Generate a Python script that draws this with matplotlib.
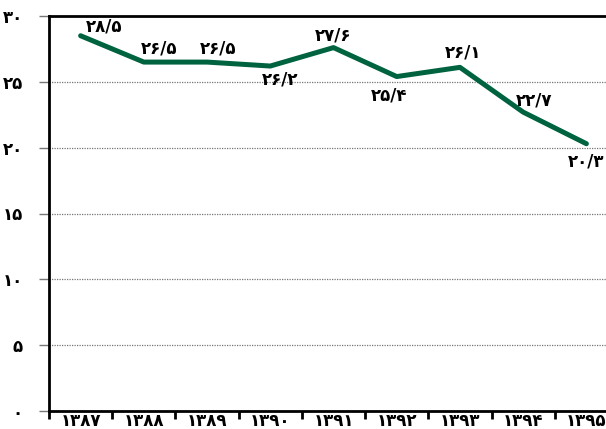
import matplotlib
matplotlib.use("Agg")
import matplotlib.pyplot as plt
import numpy as np

# ── Daten ──────────────────────────────────────────────────────────────────────
years = ["۱۳۸۷", "۱۳۸۸", "۱۳۸۹", "۱۳۹۰", "۱۳۹۱", "۱۳۹۲", "۱۳۹۳", "۱۳۹۴", "۱۳۹۵"]
values = [28.5, 26.5, 26.5, 26.2, 27.6, 25.4, 26.1, 22.7, 20.3]
value_labels = ["۲۸/۵", "۲۶/۵", "۲۶/۵", "۲۶/۲", "۲۷/۶", "۲۵/۴", "۲۶/۱", "۲۲/۷", "۲۰/۳"]
y_ticks = [0, 5, 10, 15, 20, 25, 30]
y_tick_labels = ["۰", "۵", "۱۰", "۱۵", "۲۰", "۲۵", "۳۰"]

# Beschriftungs-Versatz in Pixeln (dx, dy)
label_offsets = [(23, 9), (15, 14), (11, 14), (10, -13), (0, 12),
                 (-8, -19), (3, 15), (11, 12), (0, -18)]

LINE_COLOR = "#00633f"
FONT = ["DejaVu Sans"]

fig = plt.figure(figsize=(6.06, 4.29), dpi=100)
ax = fig.add_axes([49 / 606, 18 / 429, 569 / 606, 395 / 429])

x = np.arange(len(years))
ax.plot(x, values, color=LINE_COLOR, lw=3.6, solid_capstyle="round", zorder=3)

for xi, v, lab, (dx, dy) in zip(x, values, value_labels, label_offsets):
    ax.annotate(lab, (xi, v), xytext=(dx, dy), textcoords="offset pixels",
                ha="center", va="center", fontsize=12, fontweight="bold",
                family=FONT, color="black")

ax.set_xlim(-0.5, len(years) - 0.5)
ax.set_ylim(0, 30)

# y-Achse
ax.set_yticks(y_ticks)
ax.set_yticklabels(y_tick_labels, fontsize=12, fontweight="bold", family=FONT)
ax.yaxis.grid(True, linestyle=(0, (1, 1)), color="#777777", lw=0.9)
ax.tick_params(axis="y", length=7, width=1, color="#777777", pad=12)

# x-Achse: Beschriftung mittig, Striche an den Grenzen
ax.set_xticks(x)
ax.set_xticklabels(years, fontsize=12, fontweight="bold", family=FONT)
ax.set_xticks(np.arange(len(years) + 1) - 0.5, minor=True)
ax.tick_params(axis="x", which="major", length=0, pad=1)
ax.tick_params(axis="x", which="minor", length=6, width=2, color="black")

for side in ["left", "bottom", "top"]:
    ax.spines[side].set_linewidth(2)
    ax.spines[side].set_color("black")
ax.spines["right"].set_visible(False)

fig.savefig("out.png", dpi=100)
